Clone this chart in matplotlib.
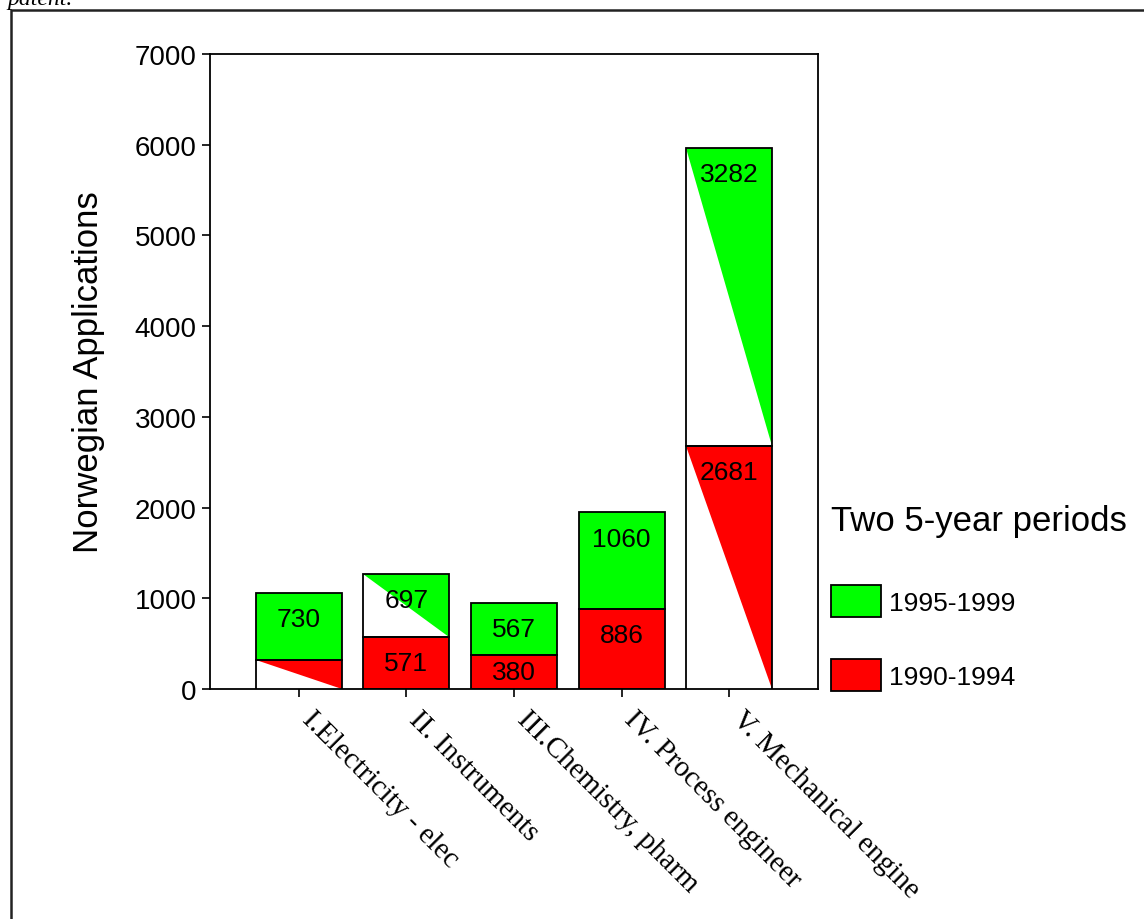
import matplotlib
matplotlib.use("Agg")
import matplotlib.pyplot as plt
from matplotlib.patches import Rectangle, Patch
from matplotlib.transforms import ScaledTranslation

# ---------------- data ----------------
categories = ["I.Electricity - elec", "II. Instruments", "III.Chemistry, pharm",
              "IV. Process engineer", "V. Mechanical engine"]
period_1990_1994 = [325, 571, 380, 886, 2681]
period_1995_1999 = [730, 697, 567, 1060, 3282]
series_labels = ["1995-1999", "1990-1994"]
legend_title = "Two 5-year periods"
y_label = "Norwegian Applications"
y_ticks = [0, 1000, 2000, 3000, 4000, 5000, 6000, 7000]

# ---------------- style ----------------
show_red_label = [False, True, True, True, True]
# rendering artefact in the original: white lower-left triangle in some segments
white_tri_red = [True, False, False, False, True]
white_tri_green = [False, True, False, False, True]
GREEN = "#00FF00"
RED = "#FF0000"
W, H = 1144, 920

plt.rcParams["font.family"] = ["Liberation Sans", "DejaVu Sans"]

fig = plt.figure(figsize=(W / 100, H / 100), dpi=100)
ax = fig.add_axes([210 / W, (H - 690) / H, (818 - 210) / W, (690 - 55) / H])

x = list(range(len(categories)))
bw = 0.8

# filled bars
ax.bar(x, period_1990_1994, width=bw, color=RED, edgecolor="none", zorder=2)
ax.bar(x, period_1995_1999, width=bw, bottom=period_1990_1994, color=GREEN,
       edgecolor="none", zorder=2)

# white triangle artefacts derived from bar geometry
for i in x:
    segs = [(0, period_1990_1994[i], white_tri_red[i]),
            (period_1990_1994[i], period_1990_1994[i] + period_1995_1999[i], white_tri_green[i])]
    for b, t, flag in segs:
        if flag:
            x0, x1 = i - bw / 2, i + bw / 2
            ax.fill([x0, x0, x1], [t, b, b], color="white", lw=0, zorder=3)

# outlines
ax.bar(x, period_1990_1994, width=bw, fill=False, edgecolor="black", linewidth=1.3, zorder=4)
ax.bar(x, period_1995_1999, width=bw, bottom=period_1990_1994, fill=False,
       edgecolor="black", linewidth=1.3, zorder=4)

# value labels
off = 287  # data units below the segment top
for i in x:
    r = period_1990_1994[i]
    g = period_1995_1999[i]
    if show_red_label[i]:
        yy = max(r - off, r / 2)
        ax.text(i, yy, str(r), ha="center", va="center", fontsize=19, zorder=5)
    top = r + g
    yy = max(top - off, r + g / 2)
    ax.text(i, yy, str(g), ha="center", va="center", fontsize=19, zorder=5)

ax.set_xlim(-0.825, 4.825)
ax.set_ylim(0, 7000)
ax.set_yticks(y_ticks)
ax.set_yticklabels([str(v) for v in y_ticks], fontsize=20)
ax.set_xticks(x)
ax.set_xticklabels([])
ax.tick_params(axis="both", direction="out", length=6, width=1.2, color="black", pad=3.5)
for s in ax.spines.values():
    s.set_linewidth(1.3)
    s.set_color("black")

# rotated category labels
trans = ax.get_xaxis_transform() + ScaledTranslation(7 / 100, -26 / 100, fig.dpi_scale_trans)
for i, lab in enumerate(categories):
    ax.text(i, 0, lab, transform=trans, rotation=-45, rotation_mode="anchor",
            ha="left", va="center", fontsize=21, family="Liberation Serif", clip_on=False)

# y label
fig.text(89 / W, 1 - 372 / H, y_label, rotation=90, ha="center", va="center", fontsize=25)

# legend
handles = [Patch(facecolor=GREEN, edgecolor="black", linewidth=1.3),
           Patch(facecolor=RED, edgecolor="black", linewidth=1.3)]
leg = ax.legend(handles, series_labels, title=legend_title, loc="upper left",
                bbox_to_anchor=(831 / W, 1 - 505 / H), bbox_transform=fig.transFigure,
                frameon=False, fontsize=19, title_fontsize=25, alignment="left",
                handlelength=1.9, handleheight=1.5, handletextpad=0.3,
                labelspacing=1.58, borderpad=0, borderaxespad=0)
# extra gap between the legend title and its entries
leg._legend_box.sep += 4.5

# outer frame (partially out of the picture)
fig.add_artist(Rectangle((11 / W, -0.05), 1.2, 1.05 - 11 / H, transform=fig.transFigure,
                         fill=False, edgecolor="#222222", linewidth=1.8))
# cropped caption at the top
fig.text(7 / W, 1 - 5 / H, "patent.", ha="left", va="baseline", fontsize=17,
         family="Liberation Serif", fontstyle="italic")

fig.savefig("out.png", dpi=100)
